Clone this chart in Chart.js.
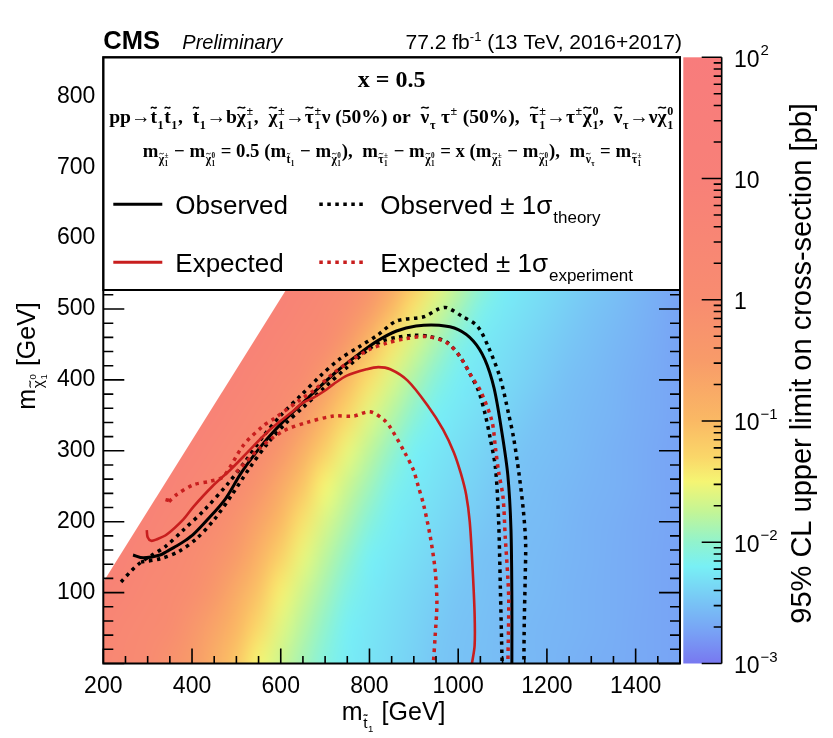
<!DOCTYPE html>
<html>
<head>
<meta charset="utf-8">
<script src="https://cdn.jsdelivr.net/npm/chart.js@4.4.1/dist/chart.umd.min.js"></script>
<style>
  html, body { margin: 0; padding: 0; background: #ffffff; }
  canvas { display: block; }
</style>
</head>
<body>
<canvas id="c" width="833" height="738"></canvas>
<script>
// ---- axis tick values ----
const X_TICKS = [200, 400, 600, 800, 1000, 1200, 1400];
const Y_TICKS = [100, 200, 300, 400, 500, 600, 700, 800];
const Z_TICKS = [1e-3, 1e-2, 1e-1, 1, 10, 100];
const Z_TICK_LABELS = [['10', '−3'], ['10', '−2'], ['10', '−1'], ['1', ''], ['10', ''], ['10', '2']];

// ---- 95% CL upper limit map (log10 of cross-section in pb) ----
const M_STOP_BINS = [200, 250, 300, 350, 400, 450, 500, 550, 600, 650, 700, 750, 800, 850, 900,
                     950, 1000, 1050, 1100, 1150, 1200, 1250, 1300, 1350, 1400, 1450, 1500];
const M_LSP_BINS = [0, 50, 100, 150, 200, 250, 300, 350, 400, 450, 500, 550];
const LOG10_LIMIT_PB = [
  [0.41, 0.24, 0.07, -0.19, -0.50, -0.81, -1.14, -1.50, -1.70, -1.90, -2.10, -2.23, -2.29, -2.35, -2.41, -2.47, -2.51, -2.53, -2.55, -2.57, -2.59, -2.62, -2.64, -2.66, -2.68, -2.70, -2.72],
  [0.56, 0.37, 0.19, 0.00, -0.32, -0.65, -0.97, -1.32, -1.60, -1.81, -2.01, -2.21, -2.27, -2.33, -2.39, -2.45, -2.50, -2.52, -2.55, -2.57, -2.59, -2.61, -2.63, -2.65, -2.68, -2.70, -2.72],
  [0.74, 0.55, 0.35, 0.16, -0.07, -0.41, -0.76, -1.11, -1.46, -1.69, -1.90, -2.12, -2.24, -2.30, -2.36, -2.42, -2.48, -2.51, -2.54, -2.56, -2.58, -2.61, -2.63, -2.65, -2.67, -2.70, -2.72],
  [0.80, 0.74, 0.53, 0.33, 0.12, -0.15, -0.52, -0.89, -1.25, -1.56, -1.78, -1.99, -2.20, -2.26, -2.32, -2.38, -2.44, -2.50, -2.52, -2.55, -2.57, -2.60, -2.62, -2.65, -2.67, -2.70, -2.72],
  [0.80, 0.80, 0.74, 0.52, 0.30, 0.09, -0.23, -0.63, -1.01, -1.37, -1.64, -1.85, -2.07, -2.22, -2.28, -2.34, -2.40, -2.46, -2.51, -2.54, -2.56, -2.59, -2.62, -2.64, -2.67, -2.69, -2.72],
  [0.80, 0.80, 0.80, 0.73, 0.51, 0.29, 0.07, -0.30, -0.73, -1.13, -1.50, -1.71, -1.92, -2.14, -2.24, -2.30, -2.36, -2.42, -2.48, -2.52, -2.55, -2.58, -2.61, -2.63, -2.66, -2.69, -2.72],
  [0.80, 0.80, 0.80, 0.80, 0.73, 0.50, 0.27, 0.05, -0.37, -0.83, -1.23, -1.55, -1.77, -1.98, -2.20, -2.26, -2.32, -2.38, -2.44, -2.50, -2.53, -2.56, -2.59, -2.63, -2.66, -2.69, -2.72],
  [0.80, 0.80, 0.80, 0.80, 0.80, 0.73, 0.49, 0.26, 0.02, -0.44, -0.92, -1.30, -1.60, -1.81, -2.03, -2.21, -2.27, -2.33, -2.39, -2.45, -2.51, -2.54, -2.58, -2.61, -2.65, -2.68, -2.72],
  [0.80, 0.80, 0.80, 0.80, 0.80, 0.80, 0.73, 0.48, 0.24, 0.00, -0.50, -1.00, -1.36, -1.63, -1.85, -2.07, -2.22, -2.28, -2.34, -2.40, -2.46, -2.52, -2.56, -2.60, -2.64, -2.68, -2.72],
  [0.80, 0.80, 0.80, 0.80, 0.80, 0.80, 0.80, 0.73, 0.48, 0.24, 0.00, -0.50, -1.00, -1.38, -1.66, -1.88, -2.11, -2.24, -2.30, -2.36, -2.42, -2.48, -2.53, -2.58, -2.62, -2.67, -2.72],
  [0.80, 0.80, 0.80, 0.80, 0.80, 0.80, 0.80, 0.80, 0.73, 0.48, 0.23, -0.05, -0.52, -1.00, -1.38, -1.67, -1.90, -2.14, -2.25, -2.31, -2.37, -2.43, -2.49, -2.54, -2.60, -2.66, -2.72],
  [0.80, 0.80, 0.80, 0.80, 0.80, 0.80, 0.80, 0.80, 0.80, 0.72, 0.45, 0.19, -0.14, -0.62, -1.08, -1.46, -1.72, -1.96, -2.20, -2.26, -2.32, -2.38, -2.44, -2.50, -2.57, -2.65, -2.72]
];
// upper edge of the scanned mass plane (m_stop, m_LSP)
const KIN_EDGE = [[200, 115], [940, 855]];

// ---- exclusion contours (m_stop, m_LSP) in GeV ----
const OBSERVED = [[267,153],[290,149],[328,153],[343,158],[366,166],[386,174],[403,182],[435,203],[475,232],[512,270],[559,309],[602,339],[645,365],[689,391],[732,415],[775,436],[818,455],[861,469],[905,476],[957,477],[1000,471],[1034,455],[1060,429],[1081,388],[1099,324],[1112,265],[1119,189],[1121,90],[1121,0]];
const OBSERVED_UP = [[240,115],[262,130],[283,142],[310,153],[340,165],[380,188],[430,218],[480,253],[520,285],[560,320],[600,350],[645,378],[690,406],[732,429],[775,446],[818,463],[861,483],[922,489],[956,500],[974,502],[1008,490],[1043,476],[1069,445],[1095,402],[1114,351],[1125,318],[1137,268],[1147,215],[1152,170],[1151,120],[1149,60],[1148,0]];
const OBSERVED_DOWN = [[285,143],[330,148],[370,158],[410,176],[450,203],[490,238],[530,276],[570,310],[610,338],[650,361],[700,390],[750,418],[800,444],[830,455],[862,460],[899,463],[937,461],[975,453],[1005,432],[1027,408],[1046,384],[1061,351],[1072,318],[1084,276],[1091,203],[1095,108],[1099,0]];
const EXPECTED = [[298,188],[300,178],[308,173],[320,175],[343,182],[380,203],[403,221],[446,250],[486,273],[516,292],[576,330],[628,356],[650,368],[674,375],[700,385],[719,394],[749,406],[794,415],[820,418],[847,415],[886,399],[931,364],[966,330],[990,298],[1006,268],[1018,238],[1026,200],[1032,140],[1037,70],[1037,25],[1031,0]];
const EXPECTED_UP = [[345,233],[343,226],[365,238],[403,252],[441,257],[471,264],[516,308],[560,335],[584,345],[644,372],[674,385],[720,410],[760,428],[800,443],[840,452],[880,458],[930,461],[975,452],[1005,432],[1030,405],[1050,385],[1076,342],[1084,304],[1091,271],[1101,235],[1106,179],[1112,120],[1114,85],[1112,0]];
const EXPECTED_DOWN = [[500,270],[553,304],[606,328],[659,340],[719,349],[764,349],[801,355],[832,344],[847,333],[880,297],[899,273],[910,250],[922,224],[937,179],[948,132],[952,85],[948,38],[944,0]];

// ---- colour palette of the limit map ----
const PALETTE = [
  [-3.0, [120, 120, 240]], [-2.75, [120, 160, 245]], [-2.5, [120, 195, 245]], [-2.2, [120, 240, 245]],
  [-2.0, [145, 243, 205]], [-1.75, [195, 245, 150]], [-1.5, [245, 245, 115]], [-1.3, [250, 215, 105]],
  [-1.0, [250, 185, 100]], [-0.5, [248, 155, 105]], [0.0, [248, 140, 112]], [1.0, [248, 128, 120]],
  [2.0, [248, 124, 124]]
];
function colorFor(L) {
  if (L <= PALETTE[0][0]) return PALETTE[0][1];
  for (let i = 1; i < PALETTE.length; i++) {
    if (L <= PALETTE[i][0]) {
      const [l0, c0] = PALETTE[i - 1], [l1, c1] = PALETTE[i];
      const t = (L - l0) / (l1 - l0);
      return c0.map((v, k) => Math.round(v + (c1[k] - v) * t));
    }
  }
  return PALETTE[PALETTE.length - 1][1];
}

const SANS = '"Liberation Sans", Arial, sans-serif';
const SERIF = '"Liberation Serif", "Times New Roman", serif';
const RED = '#c81e1e';
const DOTS = [3.5, 4.5];

// ---- small rich-text renderer (tilde, super/subscripts) ----
function drawTilde(ctx, cx, cy, w, size) {
  const a = size * 0.07, x0 = cx - w / 2;
  ctx.save();
  ctx.lineWidth = Math.max(0.8, size * 0.075);
  ctx.strokeStyle = ctx.fillStyle;
  ctx.beginPath();
  ctx.moveTo(x0, cy + a * 0.6);
  ctx.bezierCurveTo(x0 + w * 0.3, cy - a * 2, x0 + w * 0.7, cy + a * 2, x0 + w, cy - a * 0.6);
  ctx.stroke();
  ctx.restore();
}
function richText(ctx, nodes, x, y, size, st, draw) {
  const font = s => `${st.style || 'normal'} ${st.weight || 'normal'} ${s}px ${st.family}`;
  let cx = x;
  for (const n of nodes) {
    ctx.font = font(size);
    if (typeof n === 'string') {
      if (draw) ctx.fillText(n, cx, y);
      cx += ctx.measureText(n).width;
      continue;
    }
    const bw = ctx.measureText(n.b).width;
    if (draw) {
      ctx.fillText(n.b, cx, y);
      if (n.tl) drawTilde(ctx, cx + bw / 2, y - size * 0.8, bw * 0.85, size);
    }
    const ss = size * 0.62, gap = size * 0.03;
    const w1 = n.sup ? richText(ctx, n.sup, cx + bw + gap, y - size * 0.42, ss, st, draw) : 0;
    const w2 = n.sub ? richText(ctx, n.sub, cx + bw + gap, y + size * 0.3, ss, st, draw) : 0;
    cx += bw + Math.max(w1, w2) + (n.sup || n.sub ? gap * 2 : 0);
  }
  return cx - x;
}

// particle symbols
const T1 = { b: 't', tl: true, sub: ['1'] };
const CHPM = { b: 'χ', tl: true, sup: ['±'], sub: ['1'] };
const CH0 = { b: 'χ', tl: true, sup: ['0'], sub: ['1'] };
const STAU = { b: 'τ', tl: true, sup: ['±'], sub: ['1'] };
const SNU = { b: 'ν', tl: true, sub: ['τ'] };
const TAUPM = { b: 'τ', sup: ['±'] };
const M = s => ({ b: 'm', sub: [s] });

const LINE_DECAY = ['pp→', T1, T1, ',  ', T1, '→b', CHPM, ',  ', CHPM, '→', STAU, 'ν (50%) or  ',
  SNU, ' ', TAUPM, ' (50%),  ', STAU, '→', TAUPM, CH0, ',  ', SNU, '→ν', CH0];
const LINE_MASS = [M(CHPM), ' − ', M(CH0), ' = 0.5 (', M(T1), ' − ', M(CH0), '),  ', M(STAU), ' − ', M(CH0),
  ' = x (', M(CHPM), ' − ', M(CH0), '),  ', M(SNU), ' = ', M(STAU)];

function contour(label, pts, color, dashed, width) {
  return {
    label, data: pts.map(([x, y]) => ({ x, y })), showLine: true, borderColor: color,
    backgroundColor: color, borderWidth: width, borderDash: dashed ? DOTS : [],
    borderCapStyle: 'butt', pointRadius: 0, tension: 0.3, fill: false
  };
}

const datasets = [
  contour('Expected ± 1σ experiment (down)', EXPECTED_DOWN, RED, true, 3.5),
  contour('Expected ± 1σ experiment (up)', EXPECTED_UP, RED, true, 3.5),
  contour('Expected', EXPECTED, RED, false, 2.6),
  contour('Observed ± 1σ theory (down)', OBSERVED_DOWN, '#000', true, 3.5),
  contour('Observed ± 1σ theory (up)', OBSERVED_UP, '#000', true, 3.5),
  contour('Observed', OBSERVED, '#000', false, 3)
];

// ---- limit map painted under the contours ----
const heatmapPlugin = {
  id: 'heatmap',
  beforeDatasetsDraw(chart) {
    const { ctx, chartArea: a, scales: { x, y } } = chart;
    const nc = M_STOP_BINS.length, nr = M_LSP_BINS.length;
    const off = document.createElement('canvas');
    off.width = nc; off.height = nr;
    const octx = off.getContext('2d');
    const img = octx.createImageData(nc, nr);
    for (let r = 0; r < nr; r++) {
      for (let c = 0; c < nc; c++) {
        const col = colorFor(LOG10_LIMIT_PB[r][c]);
        const i = ((nr - 1 - r) * nc + c) * 4;
        img.data[i] = col[0]; img.data[i + 1] = col[1]; img.data[i + 2] = col[2]; img.data[i + 3] = 255;
      }
    }
    octx.putImageData(img, 0, 0);
    const hx = (M_STOP_BINS[1] - M_STOP_BINS[0]) / 2, hy = (M_LSP_BINS[1] - M_LSP_BINS[0]) / 2;
    const X0 = x.getPixelForValue(M_STOP_BINS[0] - hx), X1 = x.getPixelForValue(M_STOP_BINS[nc - 1] + hx);
    const Y0 = y.getPixelForValue(M_LSP_BINS[nr - 1] + hy), Y1 = y.getPixelForValue(M_LSP_BINS[0] - hy);
    ctx.save();
    ctx.beginPath(); ctx.rect(a.left, a.top, a.width, a.height); ctx.clip();
    const poly = [[x.min, y.min], ...KIN_EDGE, [x.max, y.max], [x.max, y.min]];
    ctx.beginPath();
    poly.forEach(([u, v], i) => {
      const px = x.getPixelForValue(u), py = y.getPixelForValue(v);
      i ? ctx.lineTo(px, py) : ctx.moveTo(px, py);
    });
    ctx.closePath(); ctx.clip();
    ctx.imageSmoothingEnabled = true;
    ctx.imageSmoothingQuality = 'high';
    ctx.drawImage(off, X0, Y0, X1 - X0, Y1 - Y0);
    ctx.restore();
  }
};

// ---- frame, inward ticks, legend box, colour scale and labels ----
const decorPlugin = {
  id: 'decor',
  afterDatasetsDraw(chart) {
    const { ctx, chartArea: a, scales: { x, y, z } } = chart;
    ctx.save();
    ctx.strokeStyle = '#000';
    ctx.lineWidth = 1.6;
    ctx.beginPath();
    for (let v = x.min; v <= x.max; v += 50) {
      const px = x.getPixelForValue(v), len = X_TICKS.includes(v) ? 15 : 7.5;
      ctx.moveTo(px, a.bottom); ctx.lineTo(px, a.bottom - len);
    }
    for (let v = 0; v <= y.max; v += 20) {
      const py = y.getPixelForValue(v), len = v % 100 === 0 ? 21 : 10;
      ctx.moveTo(a.left, py); ctx.lineTo(a.left + len, py);
      ctx.moveTo(a.right, py); ctx.lineTo(a.right - len, py);
    }
    ctx.stroke();

    // legend box
    const boxBottom = a.top + 232.7;
    ctx.fillStyle = '#fff';
    ctx.fillRect(a.left, a.top, a.width, boxBottom - a.top);
    ctx.lineWidth = 2;
    ctx.strokeRect(a.left, a.top, a.width, boxBottom - a.top);
    ctx.strokeRect(a.left, a.top, a.width, a.height);

    ctx.fillStyle = '#000';
    ctx.textAlign = 'left';
    ctx.textBaseline = 'alphabetic';
    const cx = (a.left + a.right) / 2;
    ctx.font = `bold 24px ${SERIF}`;
    const xw = ctx.measureText('x = 0.5').width;
    ctx.fillText('x = 0.5', cx - xw / 2, a.top + 30);
    const st = { family: SERIF, weight: 'bold' };
    const fit = (nodes, target) => 18 * target / richText(ctx, nodes, 0, 0, 18, st, false);
    const s2 = fit(LINE_DECAY, 565);
    richText(ctx, LINE_DECAY, cx - 565 / 2, a.top + 66, s2, st, true);
    const s3 = fit(LINE_MASS, 500);
    richText(ctx, LINE_MASS, cx - 500 / 2 + 1, a.top + 100, s3, st, true);

    // legend entries, styled from the datasets
    const ds = chart.data.datasets;
    const entries = [
      [ds[5], 'Observed', a.top + 147, 10, 59],
      [ds[4], 'Observed ± 1σ', a.top + 147, 216, 264, 'theory'],
      [ds[2], 'Expected', a.top + 205, 10, 59],
      [ds[1], 'Expected ± 1σ', a.top + 205, 216, 264, 'experiment']
    ];
    for (const [d, text, ly, x0, x1, sub] of entries) {
      ctx.save();
      ctx.strokeStyle = d.borderColor;
      ctx.lineWidth = d.borderDash.length ? 3.5 : 3;
      ctx.setLineDash(d.borderDash);
      ctx.beginPath();
      ctx.moveTo(a.left + x0, ly); ctx.lineTo(a.left + x1, ly);
      ctx.stroke();
      ctx.restore();
      ctx.font = `26px ${SANS}`;
      const tx = a.left + x1 + 13;
      ctx.fillText(text, tx, ly + 9.5);
      if (sub) {
        const w = ctx.measureText(text).width;
        ctx.font = `17px ${SANS}`;
        ctx.fillText(sub, tx + w + 1, ly + 19);
      }
    }

    // colour scale
    const zt = z.getPixelForValue(z.max), zb = z.getPixelForValue(z.min);
    const bx0 = a.right + 3.3, bx1 = a.right + 41.7;
    const grad = ctx.createLinearGradient(0, zb, 0, zt);
    for (const [L, c] of PALETTE) {
      const t = (zb - z.getPixelForValue(Math.pow(10, L))) / (zb - zt);
      if (t >= 0 && t <= 1) grad.addColorStop(t, `rgb(${c[0]},${c[1]},${c[2]})`);
    }
    ctx.fillStyle = grad;
    ctx.fillRect(bx0, zt, bx1 - bx0, zb - zt);
    ctx.strokeStyle = '#000';
    ctx.lineWidth = 1.6;
    ctx.beginPath();
    ctx.moveTo(bx1, zt); ctx.lineTo(bx1, zb);
    for (let d = -3; d <= 2; d++) {
      for (let k = 1; k <= 9; k++) {
        const v = k * Math.pow(10, d);
        if (v > z.max * 1.0001) break;
        const py = z.getPixelForValue(v), len = k === 1 ? 20 : 8;
        ctx.moveTo(bx1, py); ctx.lineTo(bx1 - len, py);
      }
    }
    ctx.stroke();
    ctx.fillStyle = '#000';
    Z_TICKS.forEach((v, i) => {
      const py = z.getPixelForValue(v) + 3;
      const [base, exp] = Z_TICK_LABELS[i];
      ctx.font = `23px ${SANS}`;
      ctx.textBaseline = 'middle';
      ctx.fillText(base, a.right + 54, py);
      const w = ctx.measureText(base).width;
      if (exp) {
        ctx.font = `15px ${SANS}`;
        ctx.fillText(exp, a.right + 54 + w + 1, py - 9);
      }
    });
    ctx.restore();
  },
  afterDraw(chart) {
    const { ctx, chartArea: a, scales: { z } } = chart;
    ctx.save();
    ctx.fillStyle = '#000';
    ctx.textBaseline = 'alphabetic';
    ctx.textAlign = 'left';
    // header
    ctx.font = `bold 25.5px ${SANS}`;
    ctx.fillText('CMS', a.left, 49);
    ctx.font = `italic 20px ${SANS}`;
    ctx.fillText('Preliminary', a.left + 79, 49);
    const parts = [['77.2 fb', 21, 0], ['-1', 13, -8], [' (13 TeV, 2016+2017)', 21, 0]];
    let total = 0;
    parts.forEach(([t, s]) => { ctx.font = `${s}px ${SANS}`; total += ctx.measureText(t).width; });
    let hx = a.right + 2 - total;
    parts.forEach(([t, s, dy]) => { ctx.font = `${s}px ${SANS}`; ctx.fillText(t, hx, 49 + dy); hx += ctx.measureText(t).width; });

    // axis titles
    const sst = { family: SANS };
    const xTitle = [{ b: 'm', sub: [{ b: 't', tl: true, sub: ['1'] }] }, ' [GeV]'];
    const xw = richText(ctx, xTitle, 0, 0, 25, sst, false);
    richText(ctx, xTitle, (a.left + a.right) / 2 + 2 - xw / 2, 720, 25, sst, true);

    const yTitle = [{ b: 'm', sub: [{ b: 'χ', tl: true, sup: ['0'], sub: ['1'] }] }, ' [GeV]'];
    const yw = richText(ctx, yTitle, 0, 0, 25, sst, false);
    ctx.save();
    ctx.translate(35, 356);
    ctx.rotate(-Math.PI / 2);
    richText(ctx, yTitle, -yw / 2, 0, 25, sst, true);
    ctx.restore();

    ctx.save();
    ctx.font = `29px ${SANS}`;
    const zTitle = '95% CL upper limit on cross-section [pb]';
    const zw = ctx.measureText(zTitle).width;
    ctx.translate(811, (z.getPixelForValue(z.max) + z.getPixelForValue(z.min)) / 2 + 3);
    ctx.rotate(-Math.PI / 2);
    ctx.fillText(zTitle, -zw / 2, 0);
    ctx.restore();
    ctx.restore();
  }
};

Chart.defaults.font.family = SANS;
Chart.defaults.color = '#000';

new Chart(document.getElementById('c'), {
  type: 'scatter',
  data: { datasets },
  options: {
    responsive: false,
    animation: false,
    events: [],
    layout: { padding: { top: 57.3, left: 0, right: 0, bottom: 0 } },
    plugins: { legend: { display: false }, tooltip: { enabled: false }, title: { display: false } },
    scales: {
      x: {
        type: 'linear', min: 200, max: 1500,
        afterFit: s => { s.height = 74.5; },
        afterBuildTicks: s => { s.ticks = X_TICKS.map(value => ({ value })); },
        grid: { display: false, drawTicks: false }, border: { display: false },
        ticks: { font: { size: 23 }, color: '#000', padding: 9, maxRotation: 0, autoSkip: false, callback: v => String(v) }
      },
      y: {
        type: 'linear', min: 0, max: 855,
        afterFit: s => { s.width = 103.3; },
        afterBuildTicks: s => { s.ticks = Y_TICKS.map(value => ({ value })); },
        grid: { display: false, drawTicks: false }, border: { display: false },
        ticks: { font: { size: 23 }, color: '#000', padding: 8, autoSkip: false, callback: v => String(v) }
      },
      z: {
        type: 'logarithmic', axis: 'y', position: 'right', min: 1e-3, max: 1e2,
        afterFit: s => { s.width = 153; },
        grid: { display: false, drawTicks: false }, border: { display: false },
        ticks: { display: false }
      }
    }
  },
  plugins: [heatmapPlugin, decorPlugin]
});
</script>
</body>
</html>
